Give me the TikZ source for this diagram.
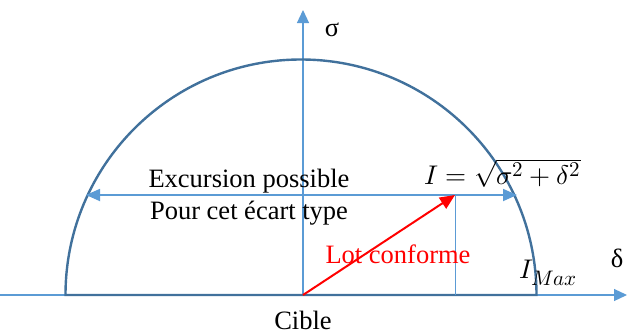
\documentclass[tikz,border=0pt]{standalone}
\usepackage{fontspec}
\setmainfont{Liberation Serif}
\usepackage{unicode-math}
\setmathfont{Latin Modern Math}
\DeclareMathSizes{27}{27}{21}{15}
\usetikzlibrary{arrows.meta}
\definecolor{axblue}{HTML}{5B9BD5}
\definecolor{dkblue}{HTML}{41719C}
\begin{document}
\begin{tikzpicture}[x=1pt,y=-1pt,
  axis/.style={axblue, line width=1.2pt, -{Triangle[length=13pt,width=12pt]}},
  txt/.style={font=\fontsize{26.5}{29}\selectfont, inner sep=0pt},
  mtxt/.style={font=\fontsize{27}{30}\selectfont, inner sep=0pt},
  thinl/.style={axblue, line width=0.8pt}]
\useasboundingbox (0,0) rectangle (627,335);
\coordinate (L) at (0,295);
\coordinate (R) at (627,295);
\coordinate (T) at (303,10);
\coordinate (B) at (303,295);
\coordinate (P) at (455,195);
\coordinate (PB) at (455,295);
\coordinate (AL) at (86,195);
\coordinate (AR) at (517,195);
% axes
\draw[axis] (L) -- (R);
\draw[axis] (B) -- (T);
% semicircle and base
\draw[dkblue, line width=2.4pt] (65.5,295) arc[start angle=180,end angle=360,radius=235.5] -- cycle;
% excursion arrow
\draw[axblue, line width=1.8pt, {Triangle[length=14pt,width=12pt]}-{Triangle[length=14pt,width=12pt]}] (AL) -- (AR);
\draw[thinl] (P) -- (PB);
% red arrow
\draw[red, line width=2pt, -{Triangle[length=15pt,width=13pt]}] (B) -- (P);
% texts
\node[txt] (exc) at (249,181) {Excursion possible};
\node[txt] (pour) at (249,213) {Pour cet écart type};
\node[txt, red] (lot) at (398,254) {Lot conforme};
\node[mtxt, anchor=west] (form) at (424,173) {$I=\sqrt{\sigma^2+\delta^2}$};
\node[mtxt, anchor=west] (imax) at (519,273) {$I_{Max}$};
\node[txt] (delta) at (617,258) {δ};
\node[txt] (sigma) at (332,30) {σ};
\node[txt] (cible) at (303,320) {Cible};
\end{tikzpicture}
\end{document}
